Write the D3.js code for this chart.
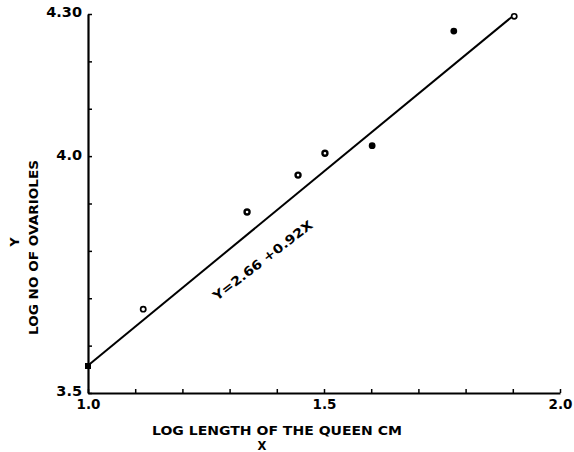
<!DOCTYPE html>
<html><head><meta charset="utf-8">
<script src="https://cdn.jsdelivr.net/npm/d3@7"></script>
<style>
html,body{margin:0;padding:0;background:#fff;}
svg{display:block;}
text{font-family:"DejaVu Sans",sans-serif;font-weight:bold;fill:#000;}
</style></head>
<body>
<svg id="chart" width="574" height="452"></svg>
<script>
// Data
const pointX = [1.0, 1.117, 1.337, 1.445, 1.502, 1.602, 1.775, 1.903];
const pointY = [3.557, 3.677, 3.882, 3.960, 4.006, 4.022, 4.264, 4.295];
const pointKind = ["square", "open", "ring", "ring", "ring", "filled", "filled", "open"];
const lineX = [1.0, 1.903];
const lineY = [3.558, 4.298];
const xTicks = [1.0, 1.1, 1.2, 1.3, 1.4, 1.5, 1.6, 1.7, 1.8, 1.9, 2.0];
const xTickLabels = {"1.0": "1.0", "1.5": "1.5", "2.0": "2.0"};
const yTicks = [3.5, 3.6, 3.7, 3.8, 3.9, 4.0, 4.1, 4.2, 4.3];
const yTickLabels = {"3.5": "3.5", "4.0": "4.0", "4.3": "4.30"};
const xTitle = "LOG LENGTH OF THE QUEEN CM";
const yTitle = "LOG NO OF OVARIOLES";
const equation = "Y=2.66 +0.92X";

const FONT = "DejaVu Sans, sans-serif";
const svg = d3.select("#chart");
const x = d3.scaleLinear().domain([1.0, 2.0]).range([88, 560]);
const y = d3.scaleLinear().domain([3.5, 4.3]).range([393, 14]);

// X axis
const gx = svg.append("g").attr("transform", "translate(0,393)")
  .call(d3.axisBottom(x).tickValues(xTicks)
    .tickSizeInner(-4).tickSizeOuter(0).tickPadding(6)
    .tickFormat(d => xTickLabels[d.toFixed(1)] || ""));
gx.attr("font-family", FONT).attr("font-size", 13.5);
gx.select(".domain").attr("stroke", "#000").attr("stroke-width", 2);
gx.selectAll(".tick line").attr("stroke", "#000").attr("stroke-width", 1.5);
gx.selectAll(".tick text").attr("font-weight", "bold");

// Y axis
const gy = svg.append("g").attr("transform", "translate(88,0)")
  .call(d3.axisLeft(y).tickValues(yTicks)
    .tickSizeInner(-4).tickSizeOuter(0).tickPadding(6)
    .tickFormat(d => yTickLabels[d.toFixed(1)] || ""));
gy.attr("font-family", FONT).attr("font-size", 14.5);
gy.select(".domain").attr("stroke", "#000").attr("stroke-width", 2.2);
gy.selectAll(".tick line").attr("stroke", "#000").attr("stroke-width", 1.5);
gy.selectAll(".tick text").attr("dy", "0.2em").attr("font-weight", "bold");

// Regression line
svg.append("path")
  .datum(lineX.map((v, i) => [v, lineY[i]]))
  .attr("fill", "none").attr("stroke", "#000").attr("stroke-width", 2)
  .attr("d", d3.line().x(d => x(d[0])).y(d => y(d[1])));

// Points
const pts = pointX.map((v, i) => ({x: v, y: pointY[i], k: pointKind[i]}));
pts.forEach(d => {
  const cx = x(d.x), cy = y(d.y);
  if (d.k === "square") {
    svg.append("rect").attr("x", cx - 3).attr("y", cy - 3).attr("width", 6).attr("height", 6).attr("fill", "#000");
  } else if (d.k === "filled") {
    svg.append("circle").attr("cx", cx).attr("cy", cy).attr("r", 3.4).attr("fill", "#000");
  } else if (d.k === "ring") {
    svg.append("circle").attr("cx", cx).attr("cy", cy).attr("r", 2.5).attr("fill", "#fff").attr("stroke", "#000").attr("stroke-width", 2.4);
  } else {
    svg.append("circle").attr("cx", cx).attr("cy", cy).attr("r", 2.6).attr("fill", "#fff").attr("stroke", "#000").attr("stroke-width", 1.7);
  }
});

// Equation label
svg.append("text")
  .attr("transform", "translate(217,301) rotate(-37.5)")
  .attr("font-size", 12.5).attr("font-weight", "normal")
  .attr("textLength", 122).attr("lengthAdjust", "spacingAndGlyphs")
  .text(equation);

// X title
svg.append("text")
  .attr("x", 152).attr("y", 435)
  .attr("font-size", 11.5)
  .attr("textLength", 250).attr("lengthAdjust", "spacingAndGlyphs")
  .text(xTitle);
svg.append("text")
  .attr("x", 262).attr("y", 450).attr("text-anchor", "middle")
  .attr("font-size", 11.5).text("X");

// Y title
svg.append("text")
  .attr("transform", "translate(37.5,335) rotate(-90)")
  .attr("font-size", 12)
  .attr("textLength", 175).attr("lengthAdjust", "spacingAndGlyphs")
  .text(yTitle);
svg.append("text")
  .attr("transform", "translate(18.5,242) rotate(-90)")
  .attr("text-anchor", "middle")
  .attr("font-size", 12.5).text("Y");
</script>
</body></html>
